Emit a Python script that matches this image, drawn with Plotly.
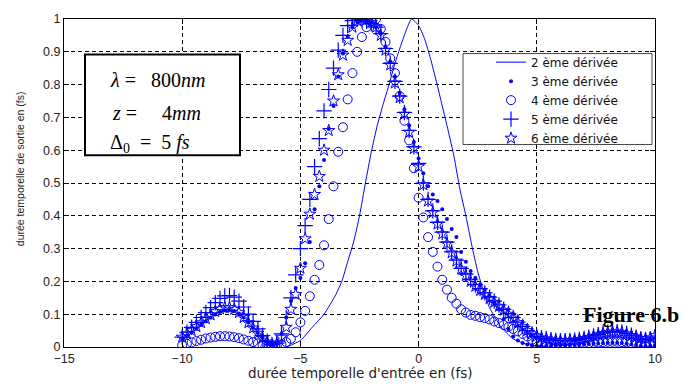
import plotly.graph_objects as go

# ---------------- data ----------------
T = [-10.0, -9.8, -9.6, -9.4, -9.2, -9.0, -8.8, -8.6, -8.4, -8.2,
     -8.0, -7.8, -7.6, -7.4, -7.2, -7.0, -6.8, -6.6, -6.4, -6.2,
     -6.0, -5.8, -5.6, -5.4, -5.2, -5.0, -4.8, -4.6, -4.4, -4.2,
     -4.0, -3.8, -3.6, -3.4, -3.2, -3.0, -2.8, -2.6, -2.4, -2.2,
     -2.0, -1.8, -1.6, -1.4, -1.2, -1.0, -0.8, -0.6, -0.4, -0.2,
     0.0, 0.2, 0.4, 0.6, 0.8, 1.0, 1.2, 1.4, 1.6, 1.8,
     2.0, 2.2, 2.4, 2.6, 2.8, 3.0, 3.2, 3.4, 3.6, 3.8,
     4.0, 4.2, 4.4, 4.6, 4.8, 5.0, 5.2, 5.4, 5.6, 5.8,
     6.0, 6.2, 6.4, 6.6, 6.8, 7.0, 7.2, 7.4, 7.6, 7.8,
     8.0, 8.2, 8.4, 8.6, 8.8, 9.0, 9.2, 9.4, 9.6, 9.8, 10.0]

deriv3 = [0.025, 0.035, 0.045, 0.056, 0.067, 0.078, 0.089, 0.099, 0.107, 0.112,
          0.113, 0.110, 0.102, 0.090, 0.075, 0.059, 0.043, 0.028, 0.015, 0.006,
          0.010, 0.040, 0.090, 0.140, 0.180, 0.210, 0.255, 0.320, 0.420, 0.490,
          0.570, 0.665, 0.735, 0.825, 0.895, 0.945, 0.975, 0.993, 1.000, 0.998,
          0.990, 0.975, 0.955, 0.915, 0.870, 0.825, 0.775, 0.725, 0.675, 0.625,
          0.575, 0.530, 0.490, 0.465, 0.445, 0.420, 0.390, 0.360, 0.335, 0.290,
          0.260, 0.232, 0.210, 0.190, 0.175, 0.155, 0.135, 0.115, 0.085, 0.055,
          0.032, 0.020, 0.012, 0.008, 0.005, 0.004, 0.003, 0.003, 0.004, 0.004,
          0.005, 0.005, 0.006, 0.006, 0.007, 0.008, 0.009, 0.010, 0.011, 0.012,
          0.013, 0.013, 0.013, 0.012, 0.010, 0.008, 0.006, 0.004, 0.003, 0.004, 0.006]

deriv4 = [0.005, 0.010, 0.014, 0.018, 0.022, 0.026, 0.029, 0.031, 0.033, 0.033,
          0.032, 0.030, 0.027, 0.023, 0.019, 0.015, 0.011, 0.007, 0.004, 0.002,
          0.003, 0.008, 0.015, 0.025, 0.045, 0.075, 0.110, 0.155, 0.205, 0.250,
          0.310, 0.390, 0.490, 0.595, 0.670, 0.755, 0.835, 0.900, 0.945, 0.975,
          0.993, 1.000, 0.970, 0.930, 0.880, 0.835, 0.765, 0.690, 0.630, 0.545,
          0.455, 0.395, 0.335, 0.290, 0.245, 0.205, 0.175, 0.150, 0.132, 0.115,
          0.105, 0.098, 0.095, 0.091, 0.088, 0.084, 0.078, 0.073, 0.067, 0.061,
          0.055, 0.048, 0.040, 0.032, 0.022, 0.015, 0.010, 0.008, 0.007, 0.007,
          0.007, 0.008, 0.008, 0.009, 0.010, 0.011, 0.012, 0.013, 0.014, 0.015,
          0.016, 0.016, 0.016, 0.015, 0.014, 0.012, 0.011, 0.010, 0.010, 0.011, 0.012]

deriv5 = [0.030, 0.045, 0.060, 0.075, 0.090, 0.105, 0.120, 0.135, 0.148, 0.156,
          0.157, 0.152, 0.140, 0.122, 0.100, 0.078, 0.055, 0.035, 0.018, 0.008,
          0.012, 0.040, 0.090, 0.150, 0.220, 0.300, 0.370, 0.450, 0.550, 0.635,
          0.720, 0.785, 0.850, 0.905, 0.950, 0.980, 0.995, 1.000, 0.998, 0.993,
          0.985, 0.975, 0.955, 0.910, 0.865, 0.810, 0.765, 0.715, 0.660, 0.610,
          0.560, 0.500, 0.450, 0.415, 0.380, 0.350, 0.320, 0.290, 0.265, 0.240,
          0.222, 0.205, 0.190, 0.178, 0.165, 0.152, 0.140, 0.128, 0.115, 0.102,
          0.090, 0.076, 0.063, 0.050, 0.040, 0.032, 0.028, 0.025, 0.022, 0.020,
          0.019, 0.019, 0.020, 0.021, 0.023, 0.026, 0.030, 0.034, 0.038, 0.042,
          0.045, 0.047, 0.047, 0.045, 0.041, 0.036, 0.030, 0.025, 0.022, 0.024, 0.030]

deriv6 = [0.030, 0.040, 0.050, 0.062, 0.074, 0.086, 0.098, 0.108, 0.116, 0.120,
          0.120, 0.115, 0.105, 0.090, 0.074, 0.058, 0.042, 0.027, 0.015, 0.006,
          0.010, 0.030, 0.060, 0.115, 0.160, 0.240, 0.330, 0.405, 0.465, 0.520,
          0.600, 0.660, 0.750, 0.830, 0.890, 0.935, 0.975, 0.995, 1.000, 0.998,
          0.990, 0.975, 0.950, 0.905, 0.860, 0.805, 0.760, 0.710, 0.655, 0.605,
          0.550, 0.495, 0.445, 0.410, 0.375, 0.345, 0.315, 0.287, 0.262, 0.238,
          0.218, 0.200, 0.185, 0.172, 0.160, 0.148, 0.136, 0.124, 0.112, 0.100,
          0.088, 0.075, 0.062, 0.050, 0.040, 0.033, 0.028, 0.025, 0.022, 0.020,
          0.019, 0.019, 0.020, 0.021, 0.023, 0.026, 0.029, 0.033, 0.037, 0.041,
          0.044, 0.046, 0.046, 0.044, 0.040, 0.035, 0.030, 0.026, 0.025, 0.028, 0.035]

line_t = [-5.6, -5.0, -4.5, -4.0, -3.5, -3.25, -3.0, -2.75, -2.5, -2.25,
          -2.0, -1.75, -1.5, -1.25, -1.0, -0.75, -0.5, -0.3, 0.0, 0.25,
          0.5, 0.75, 1.0, 1.25, 1.5, 1.75, 2.0, 2.25, 2.5, 2.75,
          3.0, 3.5, 4.0, 4.5, 5.0, 5.5]
deriv2 = [0.0, 0.02, 0.06, 0.10, 0.16, 0.20, 0.26, 0.32, 0.40, 0.50,
          0.595, 0.675, 0.74, 0.80, 0.865, 0.92, 0.97, 1.0, 0.98, 0.94,
          0.88, 0.81, 0.735, 0.66, 0.58, 0.48, 0.40, 0.31, 0.23, 0.17,
          0.12, 0.06, 0.025, 0.01, 0.003, 0.0]

for s in (deriv3, deriv4, deriv5, deriv6):
    assert len(s) == len(T)
assert len(line_t) == len(deriv2)

names = ["2 ème dérivée", "3 ème dérivée", "4 ème dérivée", "5 ème dérivée", "6 ème dérivée"]
x_ticks = [-15, -10, -5, 0, 5, 10]
y_ticks = [0, 0.1, 0.2, 0.3, 0.4, 0.5, 0.6, 0.7, 0.8, 0.9, 1]
y_tick_text = ["0", "0.1", "0.2", "0.3", "0.4", "0.5", "0.6", "0.7", "0.8", "0.9", "1"]

BLUE = "#0000ff"
SANS = "Liberation Sans"
WIDE = "DejaVu Sans"
SERIF = "Liberation Serif"

fig = go.Figure()
fig.add_trace(go.Scatter(x=line_t, y=deriv2, mode="lines", name=names[0],
                         line=dict(color=BLUE, width=1, shape="spline", smoothing=0.6)))
fig.add_trace(go.Scatter(x=T, y=deriv3, mode="markers", name=names[1],
                         marker=dict(symbol="circle", size=4, color=BLUE)))
fig.add_trace(go.Scatter(x=T, y=deriv4, mode="markers", name=names[2],
                         marker=dict(symbol="circle-open", size=9, color=BLUE,
                                     line=dict(width=1, color=BLUE))))
fig.add_trace(go.Scatter(x=T, y=deriv5, mode="markers", name=names[3],
                         marker=dict(symbol="cross-thin-open", size=11, color=BLUE,
                                     line=dict(width=1.2, color=BLUE))))
fig.add_trace(go.Scatter(x=T, y=deriv6, mode="markers", name=names[4],
                         marker=dict(symbol="star-open", size=9, color=BLUE,
                                     line=dict(width=1, color=BLUE))))

L, R, TOP, BOT = 64, 655, 15, 347
W, H = 683, 385
def px(xp):
    return (xp - L) / (R - L)
def py(yp):
    return (BOT - yp) / (BOT - TOP)

axis_common = dict(showline=True, linecolor="black", linewidth=1, mirror="ticks",
                   ticks="inside", ticklen=5, tickcolor="black", zeroline=False,
                   showgrid=True, gridcolor="black", gridwidth=1, griddash="4px,3px",
                   tickfont=dict(family=SANS, size=12.5, color="#222"))

fig.update_layout(
    width=W, height=H,
    margin=dict(l=L, r=W - R, t=TOP, b=H - BOT, pad=0),
    paper_bgcolor="white", plot_bgcolor="white",
    showlegend=True,
    legend=dict(x=px(491), y=py(44), xanchor="left", yanchor="top",
                bgcolor="rgba(0,0,0,0)", borderwidth=0,
                font=dict(family=WIDE, size=12, color="#111"),
                tracegroupgap=0, itemwidth=30),
    xaxis=dict(range=[-15, 10], tickvals=x_ticks, **axis_common),
    yaxis=dict(range=[0, 1], tickvals=y_ticks, ticktext=y_tick_text, **axis_common),
    shapes=[
        dict(type="rect", xref="paper", yref="paper",
             x0=px(85), x1=px(240), y0=py(153), y1=py(51),
             line=dict(color="black", width=2), fillcolor="white", layer="above"),
        dict(type="rect", xref="paper", yref="paper",
             x0=px(463), x1=px(652), y0=py(142), y1=py(50),
             line=dict(color="#444", width=1), fillcolor="white", layer="above"),
    ],
)

nb = "\u00a0"
annots = [
    dict(text="<i>λ</i>" + nb + "=" + nb * 3 + "800<i>nm</i>", x=px(108), y=py(77)),
    dict(text="<i>z</i>" + nb + "=" + nb * 5 + "4<i>mm</i>", x=px(110), y=py(110)),
    dict(text="Δ<sub>0</sub>" + nb * 2 + "=" + nb * 2 + "5" + nb + "<i>fs</i>", x=px(108), y=py(141)),
]
for a in annots:
    fig.add_annotation(xref="paper", yref="paper", xanchor="left", yanchor="middle",
                       showarrow=False, font=dict(family=SERIF, size=20, color="black"), **a)

fig.add_annotation(text="<b>Figure 6.b</b>", xref="paper", yref="paper",
                   x=px(681), y=py(314), xanchor="right", yanchor="middle", showarrow=False,
                   font=dict(family=SERIF, size=22, color="black"))
fig.add_annotation(text="durée temporelle d'entrée en (fs)", xref="paper", yref="paper",
                   x=px(360), y=py(373), xanchor="center", yanchor="middle", showarrow=False,
                   font=dict(family=WIDE, size=13.5, color="#222"))
fig.add_annotation(text="durée temporelle de sortie en (fs)", xref="paper", yref="paper",
                   x=px(20), y=py(167), xanchor="center", yanchor="middle", showarrow=False,
                   textangle=-90, font=dict(family=SANS, size=10.5, color="#222"))

fig.write_html("out.html")
